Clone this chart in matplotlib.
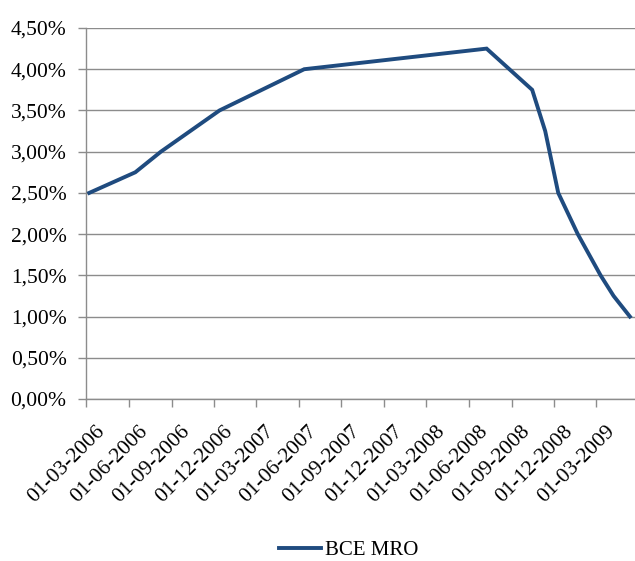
import matplotlib
matplotlib.use("Agg")
import matplotlib.pyplot as plt
import matplotlib.transforms as mtrans
from matplotlib.ticker import FuncFormatter, MultipleLocator
import datetime as dt

# Data: ECB main refinancing operations rate (change dates)
dates = ["2006-03-08", "2006-06-15", "2006-08-09", "2006-10-11", "2006-12-13",
         "2007-03-14", "2007-06-13", "2008-07-09", "2008-10-15", "2008-11-12",
         "2008-12-10", "2009-01-21", "2009-03-11", "2009-04-08", "2009-05-13"]
rates = [2.50, 2.75, 3.00, 3.25, 3.50, 3.75, 4.00, 4.25, 3.75, 3.25,
         2.50, 2.00, 1.50, 1.25, 1.00]
series_name = "BCE MRO"
tick_dates = ["2006-03-01", "2006-06-01", "2006-09-01", "2006-12-01", "2007-03-01",
              "2007-06-01", "2007-09-01", "2007-12-01", "2008-03-01", "2008-06-01",
              "2008-09-01", "2008-12-01", "2009-03-01"]

to_dt = lambda s: dt.datetime.strptime(s, "%Y-%m-%d")
x = [to_dt(d) for d in dates]
xt = [to_dt(d) for d in tick_dates]

plt.rcParams['font.family'] = ['Liberation Serif', 'DejaVu Serif']

fig = plt.figure(figsize=(6.35, 5.61), dpi=100)
ax = fig.add_axes([86/635, 1-399/561, 1-86/635, (399-28)/561])

ax.plot(x, rates, color='#1f4b7f', lw=2.8, solid_joinstyle='miter', label=series_name,
        clip_on=False, zorder=3)

ax.set_ylim(0, 4.5)
ax.yaxis.set_major_locator(MultipleLocator(0.5))
ax.yaxis.set_major_formatter(FuncFormatter(lambda v, p: f"{v:.2f}".replace('.', ',') + "%"))
ax.set_xlim(to_dt("2006-03-01"), to_dt("2009-05-24"))
ax.set_xticks(xt)
ax.set_xticklabels([d.strftime("%d-%m-%Y") for d in xt], rotation=45, ha='right',
                   rotation_mode='anchor')

ax.grid(axis='y', color='#8c8c8c', lw=1.0)
ax.set_axisbelow(True)
for s in ['top', 'right']:
    ax.spines[s].set_visible(False)
for s in ['left', 'bottom']:
    ax.spines[s].set_color('#8c8c8c')
    ax.spines[s].set_linewidth(1.0)
ax.tick_params(axis='both', colors='#8c8c8c', labelcolor='black', labelsize=15.5,
               length=6, width=1.0, direction='out')
ax.tick_params(axis='x', pad=2)
ax.tick_params(axis='y', pad=8)

offset = mtrans.ScaledTranslation(9/100, -12/100, fig.dpi_scale_trans)
for lab in ax.get_xticklabels():
    lab.set_transform(lab.get_transform() + offset)

fig.legend(loc='center', bbox_to_anchor=(349/635, 1-550/561), frameon=False,
           fontsize=15, handlelength=2.0, handletextpad=0.2)

fig.savefig("out.png", dpi=100)
